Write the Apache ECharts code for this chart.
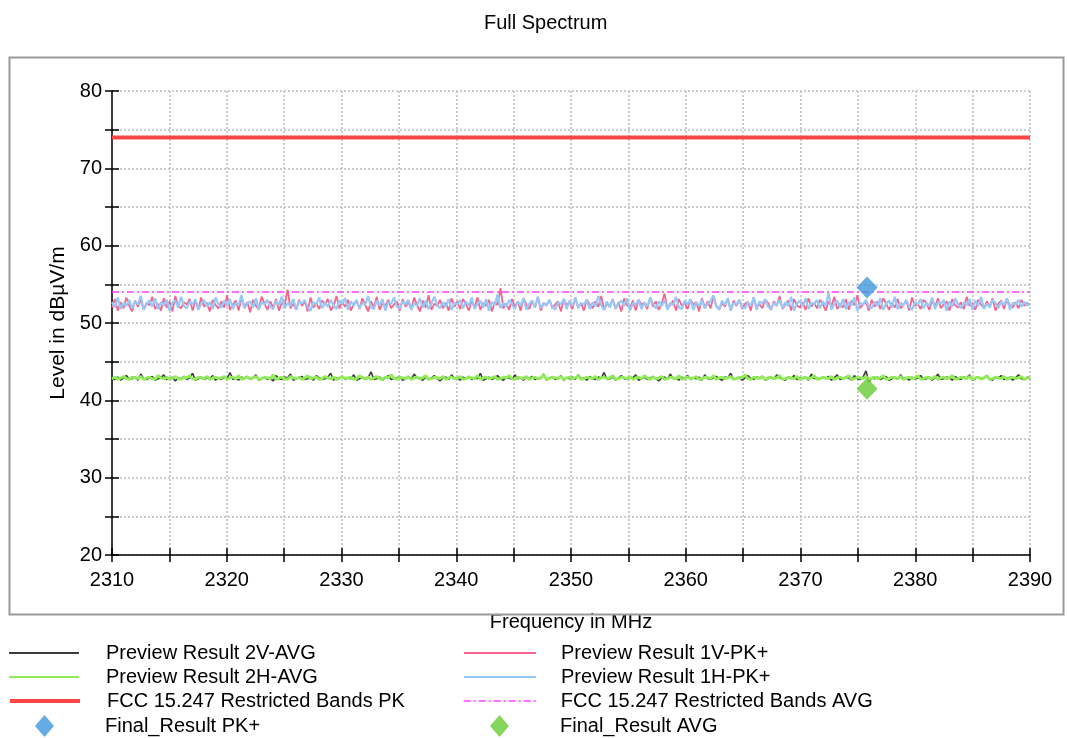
<!DOCTYPE html>
<html>
<head>
<meta charset="utf-8">
<script src="https://cdn.jsdelivr.net/npm/echarts@6/dist/echarts.min.js"></script>
<style>html,body{margin:0;padding:0;background:#fff;}#c{width:1067px;height:738px;}</style>
</head>
<body>
<div id="c"></div>
<script>
var freqStart = 2310, freqEnd = 2390;
var xTicks = [2310, 2320, 2330, 2340, 2350, 2360, 2370, 2380, 2390];
var yTicks = [20, 30, 40, 50, 60, 70, 80];

var v1PK = [
52.0,53.1,51.6,52.7,51.9,53.3,52.2,51.5,52.9,52.1,53.0,51.7,52.6,52.3,53.4,51.8,52.5,51.6,53.2,52.0,52.8,51.5,53.5,52.2,51.9,52.7,52.4,53.1,51.6,52.9,51.8,53.3,52.1,52.6,51.5,53.0,52.3,51.9,52.8,52.0,
53.6,51.7,52.4,52.9,51.6,53.2,52.1,52.7,51.4,53.0,52.2,51.8,53.4,52.5,51.7,52.8,52.0,53.1,51.6,52.6,52.3,54.3,51.9,52.5,51.7,53.0,52.2,52.8,51.5,53.3,52.0,52.6,51.8,52.9,52.4,53.1,51.6,52.2,53.5,51.9,
52.7,52.1,53.0,51.6,52.5,52.9,51.8,53.2,52.3,51.5,52.8,52.0,53.4,51.7,52.6,52.2,53.0,51.9,52.4,52.8,51.6,53.1,52.1,52.7,51.8,53.3,52.3,51.5,52.9,52.0,53.6,51.7,52.5,52.2,53.0,51.9,52.6,51.6,53.2,52.1,
52.8,51.8,53.1,52.4,51.6,52.9,52.0,53.3,51.7,52.6,52.2,53.0,51.5,52.7,52.3,54.5,51.9,52.5,51.7,53.1,52.1,52.8,51.6,53.2,52.4,51.8,52.9,52.0,53.4,51.6,52.6,52.2,53.0,51.9,52.4,52.8,51.5,53.1,52.3,52.7,
51.8,53.3,52.0,52.6,51.6,53.0,52.4,51.9,52.8,52.1,53.5,51.7,52.5,52.2,53.1,51.8,52.7,51.5,53.2,52.3,52.0,52.9,51.6,53.0,52.4,52.6,51.8,53.3,52.1,52.8,51.7,52.5,53.8,51.9,52.3,52.9,51.6,53.1,52.2,52.6,
51.8,53.0,52.4,52.7,51.5,53.2,52.0,52.8,51.9,53.4,52.3,51.7,52.6,52.1,53.1,51.6,52.9,52.2,53.0,51.8,52.5,52.7,51.6,53.3,52.0,52.4,51.9,53.0,52.6,51.7,52.8,52.2,53.5,51.8,52.4,52.9,51.6,53.1,52.3,52.0,
52.7,51.7,53.2,52.1,52.6,51.9,53.0,52.4,51.6,52.8,52.2,53.4,51.8,52.5,52.0,53.1,51.7,52.9,52.3,53.6,51.9,52.4,52.7,51.6,53.0,52.1,52.8,51.8,53.2,52.5,51.7,52.6,52.0,53.1,51.9,52.3,52.9,51.6,53.3,52.2,
52.5,51.8,53.0,52.6,51.7,52.9,52.1,53.2,51.9,52.4,52.8,51.6,53.1,52.3,52.0,52.7,51.8,53.4,52.2,52.6,51.7,53.0,52.4,51.9,52.8,52.1,53.2,51.6,52.5,52.9,51.8,53.1,52.3,52.0,52.7,51.9,53.0,52.2,52.6,52.3];

var h1PK = [
52.7,52.0,53.3,51.8,52.6,52.2,53.0,51.9,52.8,52.4,53.5,51.7,52.5,52.9,52.1,53.2,51.8,52.7,52.3,53.0,51.6,52.6,52.9,52.0,53.4,52.2,51.9,52.8,52.4,53.1,51.7,52.5,53.0,52.1,52.7,51.8,53.3,52.4,52.0,52.9,
52.2,53.1,51.8,52.6,52.3,53.6,51.9,52.5,52.8,52.0,53.2,51.7,52.7,52.4,53.0,52.1,51.8,52.9,52.3,53.4,51.9,52.6,52.2,53.1,51.7,52.8,52.5,53.0,52.0,51.6,52.7,52.4,53.3,51.9,52.6,52.1,53.0,52.3,51.8,52.9,
52.5,53.2,51.7,52.8,52.2,53.0,51.9,52.6,52.4,53.5,52.0,51.8,52.9,52.3,53.1,51.6,52.7,52.5,53.3,52.1,51.9,52.8,52.4,53.0,51.7,52.6,52.2,53.2,52.0,52.9,51.8,52.5,53.4,52.3,51.9,52.7,52.1,53.1,51.7,52.6,
52.4,53.0,51.9,52.8,52.2,53.3,51.8,52.5,52.9,52.0,53.1,51.6,52.7,52.3,53.7,51.9,52.6,52.1,53.0,52.4,51.8,52.8,52.2,53.2,51.7,52.5,52.9,52.0,53.4,51.9,52.6,52.3,53.0,52.1,51.7,52.7,52.4,53.1,51.8,52.9,
52.2,53.3,51.9,52.6,52.4,53.0,51.8,52.7,52.1,53.5,52.3,51.7,52.8,52.0,53.1,51.9,52.5,52.9,52.2,53.2,51.6,52.6,52.4,53.0,51.8,52.7,52.1,53.3,52.5,51.9,52.8,52.2,53.0,51.7,52.6,52.3,53.4,52.0,51.8,52.9,
52.4,53.1,51.7,52.7,52.2,53.0,51.9,52.5,52.8,53.6,52.1,51.8,52.9,52.3,53.2,51.6,52.6,52.4,53.0,52.0,51.9,52.7,52.2,53.3,51.7,52.8,52.5,53.1,52.1,51.8,52.6,52.3,53.0,51.9,52.7,52.2,53.4,51.6,52.5,52.9,
52.1,53.2,51.8,52.6,52.4,53.0,51.9,52.8,52.2,53.9,51.7,52.5,52.9,52.0,53.1,51.8,52.7,52.3,53.3,51.6,52.6,52.4,53.0,52.1,51.9,52.8,52.2,53.2,51.7,52.5,52.9,52.0,53.4,51.8,52.6,52.3,53.0,52.1,51.7,52.7,
52.4,53.1,51.9,52.6,52.2,53.3,51.8,52.7,52.5,53.0,51.6,52.8,52.1,53.2,52.4,51.9,52.6,52.3,53.1,51.7,52.9,52.2,53.4,51.8,52.5,52.0,53.0,52.6,51.9,52.8,52.3,53.2,51.7,52.6,52.4,53.0,52.1,52.7,52.3,52.5];

var v2AVG = [
42.8,42.7,43.0,42.6,42.9,43.2,42.7,42.8,43.0,42.6,43.4,42.8,42.7,42.9,43.1,42.6,42.8,42.9,43.3,42.7,42.8,43.0,42.5,42.9,42.8,43.1,42.7,42.9,43.5,42.6,42.8,43.0,42.7,42.9,42.8,43.2,42.6,42.9,42.7,43.0,
42.8,43.6,42.7,42.9,42.6,43.0,42.8,43.1,42.7,42.9,43.3,42.6,42.8,43.0,42.7,42.9,42.5,43.2,42.8,42.7,43.0,42.9,43.4,42.6,42.8,42.9,43.1,42.7,42.8,43.0,42.6,43.2,42.9,42.7,42.8,43.0,43.5,42.6,42.9,42.8,
43.1,42.7,42.9,42.8,43.3,42.6,42.8,43.0,42.7,42.9,43.7,42.7,42.8,43.0,42.6,42.9,43.2,42.7,42.8,42.9,43.1,42.6,42.8,43.0,42.7,43.4,42.9,42.8,42.6,43.0,42.7,42.9,43.2,42.8,42.5,42.9,43.0,42.7,43.3,42.8,
42.9,42.6,43.0,42.8,43.1,42.7,42.9,42.8,43.5,42.6,42.8,43.0,42.7,42.9,43.2,42.8,42.6,43.0,42.9,42.7,43.3,42.8,42.9,42.6,43.0,42.8,43.1,42.7,42.9,42.8,43.4,42.6,42.9,43.0,42.7,42.8,43.2,42.6,42.9,42.8,
43.0,42.7,43.3,42.8,42.9,42.6,43.1,42.8,42.7,43.0,42.9,43.6,42.7,42.8,43.0,42.6,42.9,43.2,42.8,42.7,43.0,42.9,43.3,42.6,42.8,43.0,42.7,42.9,43.1,42.8,42.5,42.9,43.0,42.7,43.4,42.8,42.9,42.6,43.0,42.8,
43.2,42.7,42.9,42.8,43.0,42.6,43.3,42.8,42.7,42.9,43.1,42.8,42.6,43.0,42.9,43.5,42.7,42.8,43.0,42.6,42.9,43.2,42.8,42.7,43.0,42.9,43.1,42.6,42.8,43.0,42.7,43.3,42.9,42.8,42.6,43.0,42.8,43.2,42.7,42.9,
42.8,43.0,42.6,43.4,42.8,42.9,42.7,43.0,42.8,43.1,42.6,42.9,43.3,42.7,42.8,43.0,42.9,42.6,43.2,42.8,42.7,43.0,43.8,42.4,42.9,42.8,43.0,42.7,42.9,43.1,42.6,42.8,43.0,42.7,43.3,42.8,42.9,42.6,43.0,42.8,
42.9,43.2,42.7,42.8,43.0,42.6,42.9,43.4,42.7,42.8,43.0,42.9,42.6,43.1,42.8,42.7,43.0,42.9,43.3,42.6,42.8,43.0,42.7,42.9,43.1,42.8,42.6,43.0,42.9,43.2,42.7,42.8,43.0,42.6,42.9,43.3,42.8,42.7,43.0,42.8];

var h2AVG = [
42.8,43.0,42.7,42.9,43.1,42.8,42.7,43.0,42.9,42.8,43.1,42.7,42.9,43.0,42.8,42.7,43.2,42.9,42.8,43.0,42.7,42.9,43.1,42.8,42.7,43.0,42.9,43.2,42.8,42.7,43.0,42.9,42.8,43.1,42.7,42.9,43.0,42.8,42.9,43.1,
42.7,42.9,43.0,42.8,43.2,42.7,42.9,43.0,42.8,42.9,43.1,42.7,42.8,43.0,42.9,42.8,43.3,42.7,42.9,43.0,42.8,42.7,43.1,42.9,42.8,43.0,42.7,42.9,43.2,42.8,42.9,43.0,42.7,42.8,43.1,42.9,42.8,43.0,42.7,42.9,
43.1,42.8,42.9,43.0,42.7,42.8,43.2,42.9,42.8,43.0,42.7,42.9,43.1,42.8,42.7,43.0,42.9,43.3,42.8,42.7,43.0,42.9,42.8,43.1,42.7,42.9,43.0,42.8,42.9,43.2,42.7,42.8,43.0,42.9,42.8,43.1,42.7,42.9,43.0,42.8,
42.9,43.1,42.7,42.8,43.0,42.9,42.8,43.2,42.7,42.9,43.0,42.8,42.9,43.1,42.7,42.8,43.0,42.9,43.2,42.8,42.7,43.0,42.9,42.8,43.1,42.7,42.9,43.0,42.8,42.9,43.3,42.7,42.8,43.0,42.9,42.8,43.1,42.7,42.9,43.0,
42.8,42.9,43.2,42.7,42.8,43.0,42.9,42.8,43.1,42.7,42.9,43.0,42.8,42.9,43.2,42.7,42.8,43.0,42.9,42.8,43.1,42.7,42.9,43.0,42.8,43.2,42.9,42.7,43.0,42.8,42.9,43.1,42.7,42.8,43.0,42.9,42.8,43.2,42.7,42.9,
43.0,42.8,42.9,43.1,42.7,42.8,43.0,42.9,42.8,43.2,42.7,42.9,43.0,42.8,42.9,43.1,42.7,42.8,43.0,42.9,43.3,42.8,42.7,43.0,42.9,42.8,43.1,42.7,42.9,43.0,42.8,42.9,43.2,42.7,42.8,43.0,42.9,42.8,43.1,42.7,
42.9,43.0,42.8,42.9,43.2,42.7,42.8,43.0,42.9,42.8,43.1,42.7,42.9,43.0,42.8,42.9,43.2,42.7,42.8,43.0,42.9,42.8,43.1,42.7,42.9,43.0,42.8,42.9,43.2,42.7,42.8,43.0,42.9,42.8,43.1,42.7,42.9,43.0,42.8,42.9,
43.2,42.7,42.8,43.0,42.9,42.8,43.1,42.7,42.9,43.0,42.8,42.9,43.2,42.7,42.8,43.0,42.9,42.8,43.1,42.7,42.9,43.0,42.8,42.9,43.2,42.7,42.8,43.0,42.9,42.8,43.1,42.7,42.9,43.0,42.8,42.9,43.1,42.7,42.9,43.0];

var limitPK = 74;
var limitAVG = 54;
var finalPK = [[2375.8, 54.6]];
var finalAVG = [[2375.8, 41.5]];

var names = ['Preview Result 2V-AVG', 'Preview Result 1V-PK+', 'Preview Result 2H-AVG', 'Preview Result 1H-PK+',
  'FCC 15.247 Restricted Bands PK', 'FCC 15.247 Restricted Bands AVG', 'Final_Result PK+', 'Final_Result AVG'];

function sweep(arr) {
  var n = arr.length, out = [];
  for (var i = 0; i < n; i++) out.push([freqStart + (freqEnd - freqStart) * i / (n - 1), arr[i]]);
  return out;
}

var FONT = 'Liberation Sans, Arial, sans-serif';
var FS = 20;
var chart = echarts.init(document.getElementById('c'));

function lineSeries(name, data, color, width, type) {
  return {
    name: name, type: 'line', data: data, symbol: 'none', showSymbol: false, animation: false,
    legendIcon: 'none',
    lineStyle: { color: color, width: width, type: type || 'solid' }, itemStyle: { color: color },
    xAxisIndex: 0, yAxisIndex: 0
  };
}

function legLine(name, left, rowY, w, pad, lw) {
  return {
    data: [name], left: left, top: rowY - 10, itemWidth: w, itemHeight: 14, orient: 'horizontal',
    itemStyle: { opacity: 0, borderWidth: 0 },
    lineStyle: { width: lw },
    textStyle: { fontFamily: FONT, fontSize: FS, color: '#000', padding: [0, 0, 0, pad] },
    selectedMode: false, padding: 0
  };
}
function legMark(name, left, rowY, pad) {
  return {
    data: [name], left: left, top: rowY - 11, itemWidth: 19, itemHeight: 22, orient: 'horizontal',
    textStyle: { fontFamily: FONT, fontSize: FS, color: '#000', padding: [0, 0, 0, pad] },
    selectedMode: false, padding: 0
  };
}

var legendRows = [653, 677, 701, 726];
chart.setOption({
  animation: false,
  backgroundColor: '#fff',
  title: {
    text: 'Full Spectrum', left: 479, top: 8,
    textStyle: { fontFamily: FONT, fontSize: FS, fontWeight: 'normal', color: '#000' }
  },
  grid: { left: 112, right: 37, top: 91, bottom: 183 },
  legend: [
    legLine(names[0], 8, legendRows[0], 70, 22, 2),
    legLine(names[2], 8, legendRows[1], 70, 22, 2),
    legLine(names[4], 8, legendRows[2], 70, 22, 4),
    legMark(names[6], 35, legendRows[3], 46),
    legLine(names[1], 463, legendRows[0], 72, 20, 2),
    legLine(names[3], 463, legendRows[1], 72, 20, 2),
    legLine(names[5], 463, legendRows[2], 72, 20, 1.5),
    legMark(names[7], 490, legendRows[3], 46)
  ],
  xAxis: [{
    type: 'value', min: freqStart, max: freqEnd, interval: 5, position: 'bottom',
    name: 'Frequency in MHz', nameLocation: 'middle', nameGap: 57,
    nameTextStyle: { fontFamily: FONT, fontSize: FS, color: '#000' },
    axisLine: { show: true, onZero: false, lineStyle: { color: '#000', width: 1.5 } },
    axisTick: { show: true, length: 7, lineStyle: { color: '#000', width: 1.5 } },
    axisLabel: {
      fontFamily: FONT, fontSize: FS, color: '#000', margin: 15,
      formatter: function (v) { return xTicks.indexOf(v) >= 0 ? String(v) : ''; }
    },
    splitLine: { show: true, lineStyle: { color: '#bdbdbd', type: [2, 2], width: 1.5 } }
  }, {
    type: 'value', min: freqStart, max: freqEnd, interval: 5, position: 'bottom', gridIndex: 0,
    axisLine: { show: false, onZero: false }, axisLabel: { show: false }, splitLine: { show: false },
    axisTick: { show: true, inside: true, length: 7, lineStyle: { color: '#000', width: 1.5 } }
  }],
  yAxis: [{
    type: 'value', min: 20, max: 80, interval: 5, position: 'left',
    name: 'Level in dBµV/m', nameLocation: 'middle', nameGap: 43,
    nameTextStyle: { fontFamily: FONT, fontSize: 21, color: '#000' },
    axisLine: { show: true, onZero: false, lineStyle: { color: '#000', width: 1.5 } },
    axisTick: { show: true, length: 7, lineStyle: { color: '#000', width: 1.5 } },
    axisLabel: {
      fontFamily: FONT, fontSize: FS, color: '#000', margin: 10,
      formatter: function (v) { return yTicks.indexOf(v) >= 0 ? String(v) : ''; }
    },
    splitLine: { show: true, lineStyle: { color: '#bdbdbd', type: [2, 2], width: 1.5 } }
  }, {
    type: 'value', min: 20, max: 80, interval: 5, position: 'left', gridIndex: 0,
    axisLine: { show: false, onZero: false }, axisLabel: { show: false }, splitLine: { show: false },
    axisTick: { show: true, inside: true, length: 7, lineStyle: { color: '#000', width: 1.5 } }
  }],
  graphic: [{
    type: 'rect', left: 7, top: 55, z: 100, silent: true,
    shape: { width: 1054, height: 557 },
    style: { fill: null, stroke: '#9a9a9a', lineWidth: 2 }
  }],
  series: [
    lineSeries(names[0], sweep(v2AVG), '#3c3c3c', 1.6),
    lineSeries(names[1], sweep(v1PK), '#f6648c', 1.8),
    lineSeries(names[2], sweep(h2AVG), '#8fec56', 2.8),
    lineSeries(names[3], sweep(h1PK), '#98c8f8', 2.2),
    lineSeries(names[4], [[freqStart, limitPK], [freqEnd, limitPK]], '#ff4545', 4),
    lineSeries(names[5], [[freqStart, limitAVG], [freqEnd, limitAVG]], '#ff40ff', 1.5, [7, 3, 2, 3]),
    {
      name: names[6], type: 'scatter', data: finalPK, symbol: 'diamond', symbolSize: [21, 22],
      itemStyle: { color: '#3f97dc' }, animation: false, z: 5
    },
    {
      name: names[7], type: 'scatter', data: finalAVG, symbol: 'diamond', symbolSize: [21, 22],
      itemStyle: { color: '#66cc33' }, animation: false, z: 5
    }
  ]
});
</script>
</body>
</html>
